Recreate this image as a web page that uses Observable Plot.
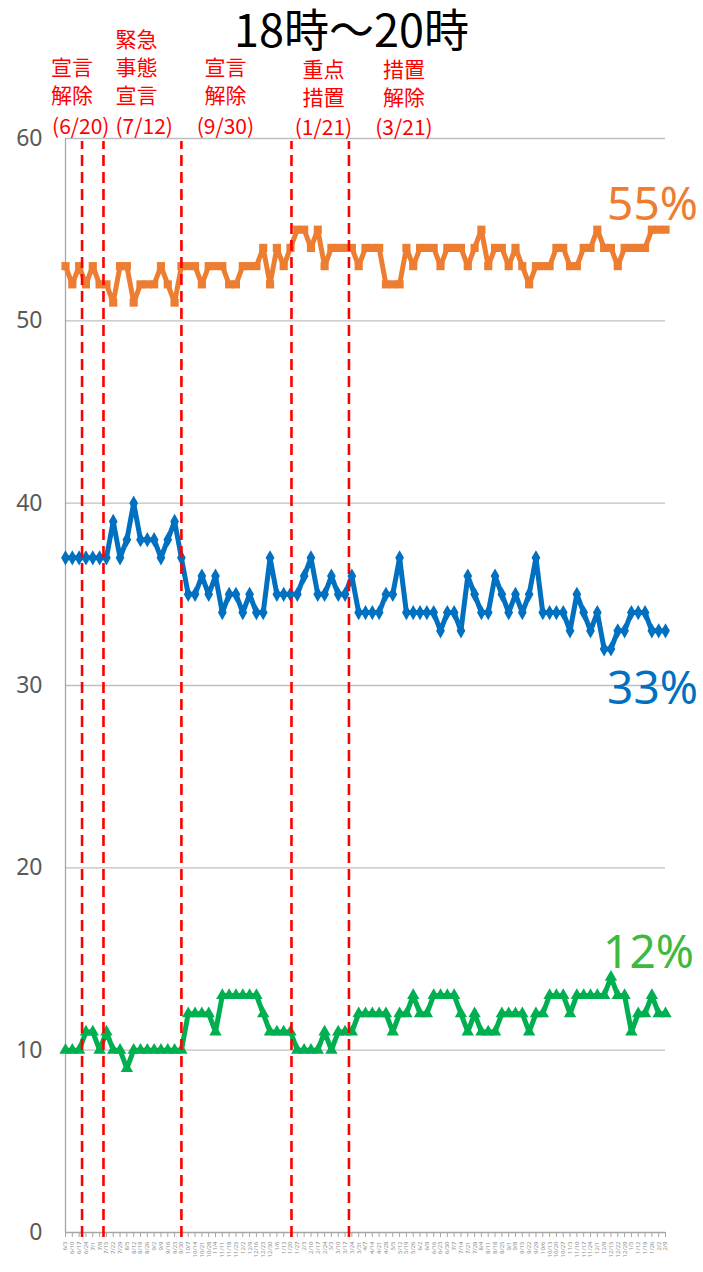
<!DOCTYPE html>
<html><head><meta charset="utf-8">
<script src="https://cdn.jsdelivr.net/npm/d3@7"></script>
<script src="https://cdn.jsdelivr.net/npm/@observablehq/plot@0.6"></script>
<style>body{margin:0;background:#fff;} svg{display:block;}</style>
</head><body><div id="chart"></div>
<script>
const dates = ["2021-06-03","2021-06-10","2021-06-17","2021-06-24","2021-07-01","2021-07-08","2021-07-15","2021-07-22","2021-07-29","2021-08-05",
"2021-08-12","2021-08-19","2021-08-26","2021-09-02","2021-09-09","2021-09-16","2021-09-23","2021-09-30","2021-10-07","2021-10-14",
"2021-10-21","2021-10-28","2021-11-04","2021-11-11","2021-11-18","2021-11-25","2021-12-02","2021-12-09","2021-12-16","2021-12-23",
"2021-12-30","2022-01-06","2022-01-13","2022-01-20","2022-01-27","2022-02-03","2022-02-10","2022-02-17","2022-02-24","2022-03-03",
"2022-03-10","2022-03-17","2022-03-24","2022-03-31","2022-04-07","2022-04-14","2022-04-21","2022-04-28","2022-05-05","2022-05-12",
"2022-05-19","2022-05-26","2022-06-02","2022-06-09","2022-06-16","2022-06-23","2022-06-30","2022-07-07","2022-07-14","2022-07-21",
"2022-07-28","2022-08-04","2022-08-11","2022-08-18","2022-08-25","2022-09-01","2022-09-08","2022-09-15","2022-09-22","2022-09-29",
"2022-10-06","2022-10-13","2022-10-20","2022-10-27","2022-11-03","2022-11-10","2022-11-17","2022-11-24","2022-12-01","2022-12-08",
"2022-12-15","2022-12-22","2022-12-29","2023-01-05","2023-01-12","2023-01-19","2023-01-26","2023-02-02","2023-02-09"];

const orange = [53,52,53,52,53,52,52,51,53,53, 51,52,52,52,53,52,51,53,53,53, 52,53,53,53,52,52,53,53,53,54,
 52,54,53,54,55,55,54,55,53,54, 54,54,54,53,54,54,54,52,52,52, 54,53,54,54,54,53,54,54,54,53,
 54,55,53,54,54,53,54,53,52,53, 53,53,54,54,53,53,54,54,55,54, 54,53,54,54,54,54,55,55,55];
const blue = [37,37,37,37,37,37,37,39,37,38, 40,38,38,38,37,38,39,37,35,35, 36,35,36,34,35,35,34,35,34,34,
 37,35,35,35,35,36,37,35,35,36, 35,35,36,34,34,34,34,35,35,37, 34,34,34,34,34,33,34,34,33,36,
 35,34,34,36,35,34,35,34,35,37, 34,34,34,34,33,35,34,33,34,32, 32,33,33,34,34,34,33,33,33];
const green = [10,10,10,11,11,10,11,10,10,9, 10,10,10,10,10,10,10,10,12,12, 12,12,11,13,13,13,13,13,13,12,
 11,11,11,11,10,10,10,10,11,10, 11,11,11,12,12,12,12,12,11,12, 12,13,12,12,13,13,13,13,12,11,
 12,11,11,11,12,12,12,12,11,12, 12,13,13,13,12,13,13,13,13,13, 14,13,13,11,12,12,13,12,12];

const seriesNames = ["orange", "blue", "green"];
const seriesColors = ["#ed7d31", "#0070c0", "#00b050"];
const labelColors = ["#ed7d31", "#0070c0", "#3dba3d"];
const seriesSymbols = ["square", "diamond", "triangle"];
const endLabels = ["55%", "33%", "12%"];

const eventDates = ["2021-06-20", "2021-07-12", "2021-09-30", "2022-01-21", "2022-03-21"];
const eventNames = ["宣言\n解除", "緊急\n事態\n宣言", "宣言\n解除", "重点\n措置", "措置\n解除"];
const eventDateLabels = ["(6/20)", "(7/12)", "(9/30)", "(1/21)", "(3/21)"];
const yTicks = [0, 10, 20, 30, 40, 50, 60];
const title = "18時～20時";

const parse = d3.utcParse("%Y-%m-%d");
const X = dates.map(parse);
const valuesBySeries = [orange, blue, green];
const rows = [];
valuesBySeries.forEach((vals, s) => vals.forEach((v, i) => rows.push({series: seriesNames[s], date: X[i], value: v})));
const events = eventDates.map((d, i) => ({date: parse(d), name: eventNames[i], label: eventDateLabels[i]}));
const ends = seriesNames.map((s, k) => ({series: s, date: X[X.length - 1], value: valuesBySeries[k][X.length - 1], label: endLabels[k]}));

// label layout (pixels), per event
const evNameDx = [-31, 12, 44, 32, 55];
const evNameAnchor = ["start", "start", "middle", "middle", "middle"];
const evDateDx = [-30, 12, 44, 32, 55];
const evDateAnchor = ["start", "start", "middle", "middle", "middle"];
const evNameDy = [-36, -36, -36, -34, -34];
const evDateDy = [-11, -11, -11, -10, -10];
const endDy = [-24, 58, -60];
const endDx = [-13, -13, -17];

const jp = "'Noto Sans CJK JP', sans-serif";
const marks = [
  Plot.gridY(yTicks.filter(t => t > 0), {stroke: "#bfbfbf", strokeOpacity: 1, strokeWidth: 1.3}),
  Plot.ruleY([0], {stroke: "#a6a6a6", strokeWidth: 1.3}),
  Plot.ruleX([X[0]], {y1: 0, y2: 60, stroke: "#a6a6a6", strokeWidth: 1.3}),
  Plot.axisY({ticks: yTicks, tickSize: 0, tickPadding: 23, fontSize: 23, fill: "#595959", label: null, fontFamily: "'Noto Sans', sans-serif"}),
  Plot.axisX({ticks: X, tickSize: 5, tickRotate: -90, fontSize: 6, stroke: "#a6a6a6", fill: "#8a8a8a", label: null,
    tickFormat: d => `${d.getUTCMonth() + 1}/${d.getUTCDate()}`}),
];
seriesNames.forEach((s, k) => {
  const data = rows.filter(r => r.series === s);
  marks.push(Plot.line(data, {x: "date", y: "value", stroke: seriesColors[k], strokeWidth: 5, strokeLinejoin: "round"}));
  marks.push(Plot.dot(data, {x: "date", y: "value", fill: seriesColors[k], symbol: seriesSymbols[k], r: 4.6, stroke: "none"}));
  marks.push(Plot.text([ends[k]], {x: "date", y: "value", text: "label", fill: labelColors[k], fontSize: 46,
    dx: endDx[k], dy: endDy[k], fontFamily: "'Noto Sans', sans-serif"}));
});
marks.push(Plot.ruleX(events, {x: "date", y1: 0, y2: 60, stroke: "#ff0000", strokeWidth: 2.6, strokeDasharray: "11,6", insetTop: 5, insetBottom: -3}));
events.forEach((e, i) => {
  marks.push(Plot.text([e], {x: "date", frameAnchor: "top", text: "name", fill: "#ff0000", fontSize: 21, lineHeight: 1.33,
    lineAnchor: "bottom", textAnchor: evNameAnchor[i], dx: evNameDx[i], dy: evNameDy[i], fontFamily: jp}));
  marks.push(Plot.text([e], {x: "date", frameAnchor: "top", text: "label", fill: "#ff0000", fontSize: 21,
    lineAnchor: "middle", textAnchor: evDateAnchor[i], dx: evDateDx[i], dy: evDateDy[i], fontFamily: jp}));
});
marks.push(Plot.text([title], {frameAnchor: "top", text: d => d, fill: "#000", fontSize: 45, dx: -14, dy: -106, lineAnchor: "middle", fontFamily: jp}));

const chart = Plot.plot({
  width: 703, height: 1272,
  marginLeft: 65, marginRight: 38, marginTop: 138, marginBottom: 40,
  x: {type: "utc", domain: [X[0], X[X.length - 1]]},
  y: {domain: [0, 60]},
  style: {background: "#fff", overflow: "visible"},
  marks
});
document.getElementById("chart").appendChild(chart);
</script></body></html>
